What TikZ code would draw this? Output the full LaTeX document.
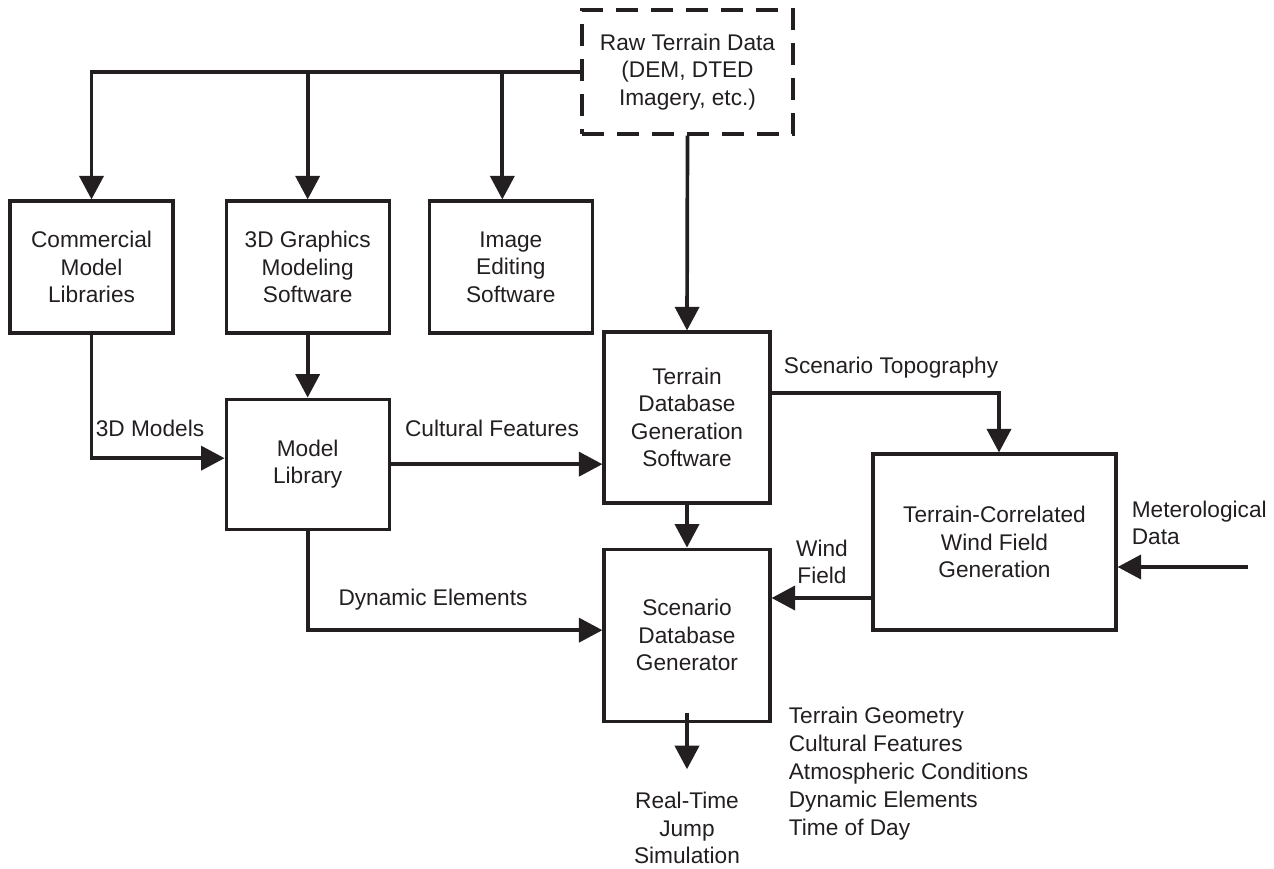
\documentclass[tikz,border=0pt]{standalone}
\usepackage{fontspec}
\setmainfont{Liberation Sans}
\usepackage{xcolor}
\usetikzlibrary{arrows.meta,positioning}
\definecolor{ink}{HTML}{231F20}

\begin{document}
\begin{tikzpicture}[>={Triangle[length=0.47cm,width=0.48cm]},
  draw=ink,text=ink,line width=2.1pt,
  font=\fontsize{12.9pt}{15.7pt}\selectfont,
  box/.style={draw,line width=1.8pt,align=center,inner sep=2pt,
              minimum width=3.26cm,minimum height=2.64cm},
  lbl/.style={inner sep=0pt,align=center}]
\useasboundingbox (0,0) rectangle (25.48,-17.38);
% sources
\node[box,dash pattern=on 0.44cm off 0.26cm,minimum width=4.22cm,
      minimum height=2.48cm] (raw) at (13.75,-1.44)
  {Raw Terrain Data\\(DEM, DTED\\Imagery, etc.)};
\node[box] (comm) at (1.83,-5.34) {Commercial\\Model\\Libraries};
\node[box,right=1.0cm of comm] (gfx) {3D Graphics\\Modeling\\Software};
\node[box,right=0.74cm of gfx] (img) {Image\\Editing\\Software};
\node[box,below=1.26cm of gfx,minimum height=2.6cm] (lib) {Model\\Library};
% terrain and scenario
\node[box,minimum width=3.32cm,minimum height=3.42cm] (terr) at (13.74,-8.35)
  {Terrain\\Database\\Generation\\Software};
\node[box,below=0.86cm of terr,minimum width=3.32cm,minimum height=3.44cm] (scen)
  {Scenario\\Database\\Generator};
\node[box,minimum width=4.86cm,minimum height=3.52cm] (wind) at (19.89,-10.84)
  {Terrain-Correlated\\Wind Field\\Generation};
\node[lbl] (out) at (13.74,-16.56) {Real-Time\\Jump\\Simulation};
\coordinate (met) at (24.96,-11.34);
% labels
\node[lbl] (l3d) at (3.0,-8.56) {3D Models};
\node[lbl] (lcult) at (9.84,-8.56) {Cultural Features};
\node[lbl] (ldyn) at (8.66,-12.0) {Dynamic Elements};
\node[lbl] (ltopo) at (17.82,-7.36) {Scenario Topography};
\node[lbl] (lwind) at (16.44,-11.24) {Wind\\Field};
\node[lbl,anchor=west,align=left] (lmet) at (22.6,-10.46) {Meterological\\Data};
\node[lbl,anchor=west,align=left,font=\fontsize{12.9pt}{15.9pt}\selectfont] (lout)
  at (15.74,-15.48)
  {Terrain Geometry\\Cultural Features\\Atmospheric Conditions\\Dynamic Elements\\Time of Day};
% connectors
\draw[->] (raw.west) -| (comm.north);
\draw[->] (gfx.north |- raw.west) -- (gfx.north);
\draw[->] ([xshift=-0.17cm]img.north |- raw.west) -- ([xshift=-0.17cm]img.north);
\draw[->] (raw.south) -- (terr.north);
\draw[->] (comm.south) |- ([yshift=0.12cm]lib.west);
\draw[->] (gfx.south) -- (lib.north);
\draw[->] (lib.east) -- (lib.east -| terr.west);
\draw[->] (lib.south) |- ([yshift=0.1cm]scen.west);
\draw[->] (terr.south) -- (scen.north);
\draw[->] ([yshift=0.49cm]terr.east) -| ([xshift=0.09cm]wind.north);
\draw[->] ([yshift=-1.12cm]wind.west) -- ([yshift=-1.12cm]wind.west -| scen.east);
\draw[->] (met) -- (met -| wind.east);
\draw[->] ([yshift=0.2cm]scen.south) -- ([yshift=0.42cm]out.north);
\end{tikzpicture}
\end{document}
